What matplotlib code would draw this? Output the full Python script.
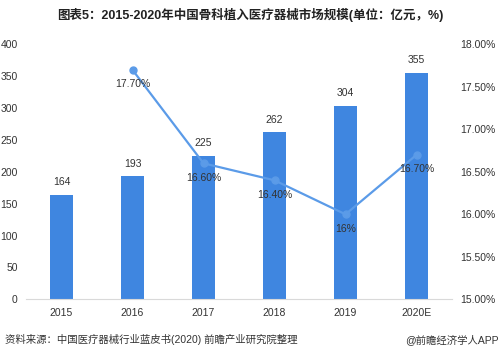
import matplotlib.pyplot as plt
import numpy as np

plt.rcParams['font.family'] = ['Liberation Sans', 'Noto Sans CJK SC', 'DejaVu Sans']

years = ["2015", "2016", "2017", "2018", "2019", "2020E"]
market_size = [164, 193, 225, 262, 304, 355]
growth_years = ["2016", "2017", "2018", "2019", "2020E"]
growth_rate = [17.70, 16.60, 16.40, 16.00, 16.70]
growth_labels = ["17.70%", "16.60%", "16.40%", "16%", "16.70%"]

fig = plt.figure(figsize=(5, 3.55), dpi=100)
ax = fig.add_axes([0.052, 0.157, 0.852, 0.718])

x = np.arange(len(years))
bar_color = "#3F86E0"
ax.bar(x, market_size, width=0.31, color=bar_color, zorder=2)
for xi, v in zip(x, market_size):
    ax.text(xi, v + 12, str(v), ha="center", va="bottom", fontsize=7.5,
            color="#333333")

ax.set_ylim(0, 400)
ax.set_yticks(range(0, 401, 50))
ax.set_xlim(-0.5, len(years) - 0.5)
ax.set_xticks(x)
ax.set_xticklabels(years)
for s in ["top", "left", "right"]:
    ax.spines[s].set_visible(False)
ax.spines["bottom"].set_color("#d9d9d9")
ax.tick_params(axis="both", length=0, labelsize=7.5, colors="#333333")
ax.tick_params(axis="y", pad=6)
ax.tick_params(axis="x", pad=6)

ax2 = ax.twinx()
gx = [years.index(y) for y in growth_years]
line_color = "#5B9BE8"
ax2.plot(gx, growth_rate, color=line_color, lw=1.6, marker="o", ms=5, zorder=3)
for xi, v, lab in zip(gx, growth_rate, growth_labels):
    ax2.text(xi, v - 0.11, lab, ha="center", va="top", fontsize=7.5,
             color="#333333")
ax2.set_ylim(15, 18)
ax2.set_yticks(np.arange(15, 18.01, 0.5))
ax2.set_yticklabels([f"{t:.2f}%" for t in np.arange(15, 18.01, 0.5)])
for s in ["top", "left", "right", "bottom"]:
    ax2.spines[s].set_visible(False)
ax2.tick_params(axis="y", length=0, labelsize=7.5, colors="#333333", pad=6)

fig.text(0.5, 0.958, "图表5：2015-2020年中国骨科植入医疗器械市场规模(单位：亿元，%)",
         ha="center", va="center", fontsize=9, fontweight="bold",
         color="#222222")
fig.text(0.01, 0.043, "资料来源：中国医疗器械行业蓝皮书(2020) 前瞻产业研究院整理",
         ha="left", va="center", fontsize=7.5, color="#333333")
fig.text(0.998, 0.043, "@前瞻经济学人APP", ha="right", va="center",
         fontsize=7.5, color="#333333")

fig.savefig("out.png", dpi=100)
